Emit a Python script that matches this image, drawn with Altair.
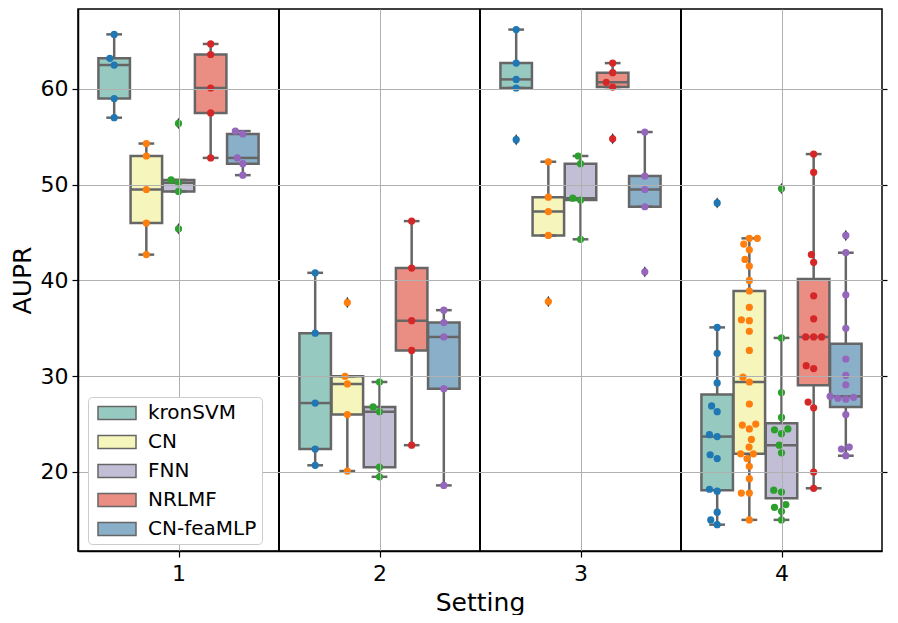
import colorsys
import numpy as np
import pandas as pd
import altair as alt

# ---------------- data ----------------
models = ["kronSVM", "CN", "FNN", "NRLMF", "CN-feaMLP"]
settings = [1, 2, 3, 4]
box_palette = ["#8dd3c7", "#ffffb3", "#bebada", "#fb8072", "#80b1d3"]
point_palette = ["#1f77b4", "#ff7f0e", "#2ca02c", "#d62728", "#9467bd"]
y_ticks = [20, 30, 40, 50, 60]
separators = [1.5, 2.5, 3.5]

s1_kronsvm = [65.7, 63.2, 62.5, 59.0, 57.0]
s1_cn = [54.3, 53.0, 49.5, 46.0, 42.7]
s1_fnn = [56.4, 50.5, 50.2, 49.3, 45.4]
s1_nrlmf = [64.7, 63.6, 60.1, 57.5, 52.8]
s1_cnfeamlp = [55.6, 55.3, 52.8, 52.2, 51.0]

s2_kronsvm = [40.8, 34.5, 27.2, 22.4, 20.7]
s2_cn = [37.7, 30.0, 29.2, 26.0, 20.1]
s2_fnn = [29.4, 26.8, 26.3, 20.5, 19.5]
s2_nrlmf = [46.2, 41.3, 35.8, 32.7, 22.8]
s2_cnfeamlp = [36.9, 35.6, 34.1, 28.7, 18.6]

s3_kronsvm = [66.2, 62.7, 61.0, 60.1, 54.7]
s3_cn = [52.4, 48.7, 47.2, 44.7, 37.8]
s3_fnn = [53.0, 52.2, 48.6, 48.4, 44.3]
s3_nrlmf = [62.7, 61.7, 60.7, 60.2, 54.8]
s3_cnfeamlp = [55.5, 50.9, 49.5, 47.7, 40.9]

s4_kronsvm = [48.1, 35.1, 32.4, 29.3, 26.9, 26.3, 23.9, 23.7, 21.8, 21.4,
              18.2, 18.0, 15.8, 15.0, 14.5]
s4_cn = [44.4, 44.4, 43.8, 43.2, 42.2, 41.5, 40.0, 38.9, 37.2, 35.9, 35.8,
         34.7, 32.7, 29.9, 29.4, 27.1, 25.0, 24.9, 24.5, 23.4, 22.6, 21.9,
         21.9, 21.4, 20.6, 19.3, 17.8, 17.8, 15.0]
s4_fnn = [49.6, 34.0, 28.3, 25.7, 24.5, 24.4, 24.0, 22.8, 22.0, 18.1, 17.9,
          16.6, 16.3, 15.9, 15.0]
s4_nrlmf = [53.2, 51.3, 42.7, 41.9, 38.4, 36.0, 34.1, 34.1, 34.1, 31.1, 30.8,
            27.3, 26.7, 20.0, 18.3]
s4_cnfeamlp = [44.7, 42.9, 38.5, 35.0, 31.8, 30.1, 29.1, 27.9, 27.8, 27.7,
               27.6, 26.0, 22.6, 22.4, 21.7]

groups = {
    1: [s1_kronsvm, s1_cn, s1_fnn, s1_nrlmf, s1_cnfeamlp],
    2: [s2_kronsvm, s2_cn, s2_fnn, s2_nrlmf, s2_cnfeamlp],
    3: [s3_kronsvm, s3_cn, s3_fnn, s3_nrlmf, s3_cnfeamlp],
    4: [s4_kronsvm, s4_cn, s4_fnn, s4_nrlmf, s4_cnfeamlp],
}

# ---------------- layout / style constants ----------------
W, H = 804, 542
Y_MIN, Y_MAX = 11.75, 68.35
X_MIN, X_MAX = 0.5, 4.5
PX_X = W / (X_MAX - X_MIN)
PX_Y = H / (Y_MAX - Y_MIN)
HUE_W = 0.8 / len(models)
BOX_W = HUE_W * 0.98
GRAY = "#666666"
FONT = "DejaVu Sans"
DOT = 8.0


def desaturate(hexc, prop=0.75):
    r, g, b = (int(hexc[i:i + 2], 16) / 255 for i in (1, 3, 5))
    h, l, s = colorsys.rgb_to_hls(r, g, b)
    r, g, b = colorsys.hls_to_rgb(h, l, s * prop)
    return "#%02x%02x%02x" % tuple(int(round(c * 255)) for c in (r, g, b))


box_colors = [desaturate(c) for c in box_palette]


def swarm_offsets(vals, d=DOT):
    ys = np.asarray(vals, dtype=float) * PX_Y
    order = np.argsort(ys, kind="stable")
    placed = []
    xs = np.zeros(len(ys))
    for i in order:
        y = ys[i]
        cands = [0.0]
        for px, py in placed:
            dy = abs(py - y)
            if dy < d:
                dx = np.sqrt(d * d - dy * dy)
                cands += [px + dx, px - dx]
        cands = sorted(cands, key=lambda c: (round(abs(c), 6), c))
        chosen = cands[-1]
        for c in cands:
            if all((c - px) ** 2 + (y - py) ** 2 >= d * d - 1e-6 for px, py in placed):
                chosen = c
                break
        xs[i] = chosen
        placed.append((chosen, y))
    lim = HUE_W / 2 * PX_X
    xs = np.clip(xs, -lim, lim)
    return xs / PX_X


box_rows, whisk_rows, cap_rows, flier_rows, point_rows = [], [], [], [], []
for s in settings:
    for m, vals in enumerate(groups[s]):
        v = np.asarray(vals, dtype=float)
        q1, med, q3 = np.percentile(v, [25, 50, 75])
        iqr = q3 - q1
        lo = v[v >= q1 - 1.5 * iqr].min()
        hi = v[v <= q3 + 1.5 * iqr].max()
        xc = s + (m - (len(models) - 1) / 2) * HUE_W
        box_rows.append(dict(model=models[m], xc=xc, xl=xc - BOX_W / 2,
                             xr=xc + BOX_W / 2, q1=q1, med=med, q3=q3))
        whisk_rows += [dict(xc=xc, y=lo, y2=q1), dict(xc=xc, y=q3, y2=hi)]
        cap_rows += [dict(xl=xc - BOX_W / 4, xr=xc + BOX_W / 4, y=lo),
                     dict(xl=xc - BOX_W / 4, xr=xc + BOX_W / 4, y=hi)]
        for f in v[(v < lo) | (v > hi)]:
            flier_rows.append(dict(xc=xc, y=f))
        offs = swarm_offsets(v)
        for val, o in zip(v, offs):
            point_rows.append(dict(x=xc + o, y=val, pcolor=point_palette[m]))

box_df = pd.DataFrame(box_rows)
whisk_df = pd.DataFrame(whisk_rows)
cap_df = pd.DataFrame(cap_rows)
flier_df = pd.DataFrame(flier_rows)
point_df = pd.DataFrame(point_rows)
sep_df = pd.DataFrame({"sep": separators})

# ---------------- encodings ----------------
x_scale = alt.Scale(domain=[X_MIN, X_MAX], nice=False, zero=False)
y_scale = alt.Scale(domain=[Y_MIN, Y_MAX], nice=False, zero=False)
x_axis = alt.Axis(values=settings, format="d", title="Setting", grid=True,
                  labelFontSize=22, titleFontSize=25, tickSize=6,
                  labelPadding=6, titlePadding=6, zindex=1)
y_axis = alt.Axis(values=y_ticks, format="d", title="AUPR", grid=True,
                  labelFontSize=22, titleFontSize=25, tickSize=6,
                  labelPadding=4, titlePadding=5, zindex=1)


def X(field):
    return alt.X(f"{field}:Q", scale=x_scale, axis=x_axis)


def Y(field):
    return alt.Y(f"{field}:Q", scale=y_scale, axis=y_axis)


legend = alt.Legend(
    title=None, orient="none", legendX=10, legendY=388,
    symbolType="M-1.9,-0.65H1.9V0.65H-1.9Z", symbolSize=400,
    symbolStrokeColor=GRAY, symbolStrokeWidth=1.5, symbolOffset=13,
    labelFontSize=20, labelFont=FONT, labelOffset=20,
    padding=5, rowPadding=8, fillColor="white", strokeColor="#cccccc",
    cornerRadius=4, zindex=3,
)

seps = alt.Chart(sep_df).mark_rule(color="black", strokeWidth=2).encode(x=X("sep"))

whiskers = alt.Chart(whisk_df).mark_rule(color=GRAY, strokeWidth=2.5).encode(
    x=X("xc"), y=Y("y"), y2="y2")

boxes = alt.Chart(box_df).mark_rect(stroke=GRAY, strokeWidth=2.5).encode(
    x=X("xl"), x2="xr", y=Y("q1"), y2="q3",
    fill=alt.Fill("model:N", scale=alt.Scale(domain=models, range=box_colors),
                  sort=models, legend=legend))

medians = alt.Chart(box_df).mark_rule(color=GRAY, strokeWidth=2.5).encode(
    x=X("xl"), x2="xr", y=Y("med"))

caps = alt.Chart(cap_df).mark_rule(color=GRAY, strokeWidth=2.5).encode(
    x=X("xl"), x2="xr", y=Y("y"))

fliers = alt.Chart(flier_df).mark_point(
    shape="M0,-1L0.55,0L0,1L-0.55,0Z", size=130, filled=True, color="#3f3f3f",
    opacity=1).encode(x=X("xc"), y=Y("y"))

points = alt.Chart(point_df).mark_circle(size=52, opacity=1).encode(
    x=X("x"), y=Y("y"), color=alt.Color("pcolor:N", scale=None))

main = alt.layer(whiskers, boxes, medians, caps, fliers, points, seps)

right_axis = alt.Chart(box_df).mark_point(opacity=0).encode(
    x=X("xc"),
    y=alt.Y("med:Q", scale=y_scale,
            axis=alt.Axis(orient="right", values=y_ticks, labels=False,
                          title=None, grid=False, tickSize=5, domain=False)))

chart = (
    alt.layer(main, right_axis)
    .resolve_axis(y="independent")
    .properties(width=W, height=H,
                padding={"left": 2, "top": 0, "right": 0, "bottom": 0})
    .configure_view(stroke="black", strokeWidth=1.5)
    .configure_axis(domainColor="black", tickColor="black", gridColor="#b0b0b0",
                    gridWidth=1, labelColor="black", titleColor="black",
                    labelFont=FONT, titleFont=FONT, titleFontWeight="normal",
                    domainWidth=1.5, tickWidth=1.2)
    .configure_legend(strokeWidth=1, labelColor="black")
)

chart.save("out.html", embed_options={"renderer": "svg", "actions": False})
